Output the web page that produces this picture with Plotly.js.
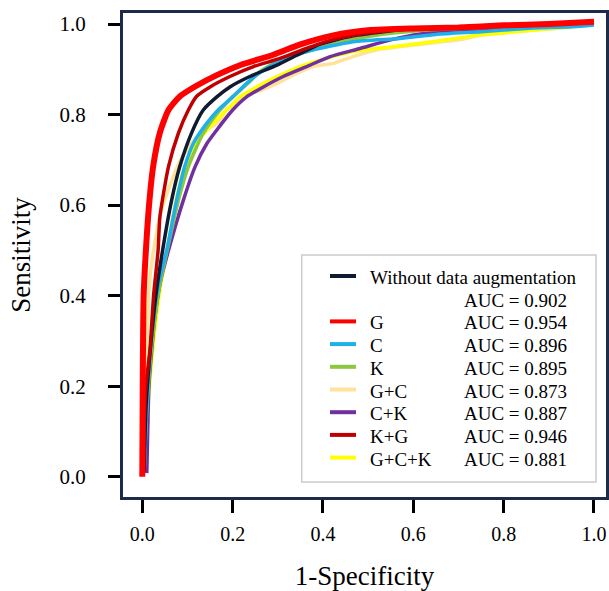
<!DOCTYPE html>
<html>
<head>
<meta charset="utf-8">
<script src="https://cdn.plot.ly/plotly-3.0.1.min.js"></script>
<style>html,body{margin:0;padding:0;background:#fff;}#chart{width:609px;height:591px;}</style>
</head>
<body>
<div id="chart"></div>
<script>
// ---- Data ----
const seriesNames = ["Without data augmentation", "G", "C", "K", "G+C", "C+K", "K+G", "G+C+K"];
const seriesAUC = ["AUC = 0.902", "AUC = 0.954", "AUC = 0.896", "AUC = 0.895", "AUC = 0.873", "AUC = 0.887", "AUC = 0.946", "AUC = 0.881"];
const seriesColors = ["#101a30", "#ff0000", "#1eb0ea", "#8dc63f", "#ffe29a", "#7030a0", "#c00000", "#ffff00"];

const fprNone = [0.004,0.008,0.015,0.03,0.045,0.065,0.083,0.109,0.135,0.165,0.194,0.238,0.298,0.342,0.393,0.467,0.533,0.6,0.7,0.8,0.9,1.0];
const tprNone = [0.01,0.15,0.25,0.4,0.5,0.611,0.685,0.759,0.81,0.839,0.861,0.884,0.909,0.931,0.955,0.974,0.983,0.99,0.992,0.995,0.999,1.004];

const fprG = [0,0.001,0.003,0.008,0.015,0.024,0.039,0.058,0.083,0.117,0.165,0.216,0.29,0.35,0.423,0.5,0.6,0.7,0.8,0.9,1.0];
const tprG = [0,0.2,0.4,0.5,0.6,0.685,0.76,0.81,0.84,0.862,0.887,0.909,0.932,0.955,0.975,0.986,0.99,0.992,0.997,1.0,1.005];

const fprC = [0.004,0.01,0.02,0.035,0.054,0.076,0.094,0.113,0.143,0.168,0.2,0.231,0.268,0.312,0.364,0.467,0.57,0.65,0.75,0.85,0.95,1.0];
const tprC = [0.01,0.15,0.3,0.42,0.5,0.611,0.685,0.736,0.781,0.81,0.839,0.869,0.898,0.92,0.939,0.961,0.968,0.977,0.983,0.99,0.994,0.998];

const fprK = [0.004,0.01,0.022,0.038,0.055,0.08,0.102,0.135,0.172,0.2,0.234,0.26,0.305,0.378,0.46,0.555,0.65,0.75,0.85,1.0];
const tprK = [0.01,0.15,0.3,0.42,0.5,0.611,0.685,0.759,0.81,0.839,0.869,0.895,0.92,0.943,0.965,0.98,0.988,0.992,0.996,1.002];

const fprGC = [0.002,0.005,0.008,0.01,0.014,0.018,0.025,0.04,0.06,0.085,0.12,0.14,0.165,0.187,0.223,0.253,0.29,0.334,0.378,0.423,0.467,0.52,0.615,0.7,0.75,0.85,0.95,1.0];
const tprGC = [0.01,0.1,0.2,0.28,0.4,0.45,0.5,0.58,0.64,0.7,0.75,0.765,0.781,0.81,0.839,0.85,0.865,0.887,0.906,0.913,0.928,0.943,0.955,0.965,0.975,0.985,0.993,1.0];

const fprCK = [0.01,0.012,0.015,0.028,0.04,0.058,0.091,0.117,0.143,0.165,0.2,0.231,0.268,0.312,0.364,0.416,0.482,0.55,0.615,0.7,0.8,0.9,1.0];
const tprCK = [0.008,0.1,0.207,0.353,0.43,0.5,0.611,0.685,0.736,0.766,0.81,0.839,0.861,0.884,0.906,0.928,0.946,0.965,0.978,0.986,0.992,0.997,1.005];

const fprKG = [0.003,0.004,0.008,0.017,0.025,0.035,0.039,0.058,0.08,0.102,0.12,0.15,0.194,0.246,0.305,0.36,0.42,0.5,0.6,0.7,0.8,0.9,1.0];
const tprKG = [0.01,0.1,0.2,0.28,0.4,0.5,0.574,0.685,0.759,0.81,0.84,0.861,0.884,0.906,0.924,0.945,0.965,0.98,0.99,0.992,0.996,1.0,1.005];

const fprGCK = [0.003,0.012,0.025,0.04,0.055,0.075,0.094,0.12,0.157,0.194,0.216,0.253,0.305,0.349,0.408,0.467,0.555,0.65,0.75,0.85,0.95,1.0];
const tprGCK = [0.01,0.15,0.3,0.42,0.5,0.611,0.685,0.736,0.781,0.817,0.839,0.861,0.887,0.906,0.924,0.939,0.95,0.962,0.976,0.985,0.994,1.0];

const xTickVals = [0, 0.2, 0.4, 0.6, 0.8, 1.0];
const xTickText = ["0.0", "0.2", "0.4", "0.6", "0.8", "1.0"];
const yTickVals = [0, 0.2, 0.4, 0.6, 0.8, 1.0];
const yTickText = ["0.0", "0.2", "0.4", "0.6", "0.8", "1.0"];

const seriesX = [fprNone, fprG, fprC, fprK, fprGC, fprCK, fprKG, fprGCK];
const seriesY = [tprNone, tprG, tprC, tprK, tprGC, tprCK, tprKG, tprGCK];
const seriesWidth = [3.5, 6, 3.5, 3.5, 3.5, 3.5, 3.5, 3.5];

// drawing order (bottom to top)
const drawOrder = [4, 7, 5, 3, 2, 0, 6, 1];
const traces = drawOrder.map(i => ({
  type: 'scatter', mode: 'lines',
  x: seriesX[i], y: seriesY[i], name: seriesNames[i],
  line: {color: seriesColors[i], width: seriesWidth[i], shape: 'spline', smoothing: 0.6},
  hoverinfo: 'skip'
}));

// ---- Layout ----
const M = {l: 123, r: 3, t: 13, b: 94};
const W = 609, H = 591;
const pw = W - M.l - M.r, ph = H - M.t - M.b;
const px2paper = px => (px - M.l) / pw;
const py2paper = py => (H - M.b - py) / ph;

const serif = 'Liberation Serif, Times New Roman, serif';
const shapes = [];
const annotations = [];

// legend box
shapes.push({type: 'rect', xref: 'paper', yref: 'paper',
  x0: px2paper(301.7), x1: px2paper(596), y0: py2paper(482), y1: py2paper(255),
  line: {color: '#cccccc', width: 1.5}, fillcolor: 'white', layer: 'above'});

const lineTop = 277.5, lineStep = 22.7;
const textX = 368.3, aucX = 462, sampleX0 = 330, sampleX1 = 356;
for (let k = 0; k < seriesNames.length; k++) {
  const textLine = k === 0 ? 0 : k + 1;
  const yc = lineTop + lineStep * textLine;
  shapes.push({type: 'line', xref: 'paper', yref: 'paper', layer: 'above',
    x0: px2paper(sampleX0), x1: px2paper(sampleX1),
    y0: py2paper(yc - 1.5), y1: py2paper(yc - 1.5),
    line: {color: seriesColors[k], width: 4}});
  annotations.push({xref: 'paper', yref: 'paper', x: px2paper(textX), y: py2paper(yc),
    xanchor: 'left', yanchor: 'middle', showarrow: false, text: seriesNames[k],
    font: {family: serif, size: 19, color: 'black'}});
  const aucLine = k === 0 ? 1 : textLine;
  annotations.push({xref: 'paper', yref: 'paper', x: px2paper(aucX), y: py2paper(lineTop + lineStep * aucLine),
    xanchor: 'left', yanchor: 'middle', showarrow: false, text: seriesAUC[k],
    font: {family: serif, size: 19, color: 'black'}});
}

const layout = {
  width: W, height: H,
  margin: M,
  paper_bgcolor: 'white', plot_bgcolor: 'white',
  showlegend: false,
  font: {family: serif, color: 'black'},
  xaxis: {
    range: [-0.0427, 1.0266], tickvals: xTickVals, ticktext: xTickText,
    ticks: 'outside', ticklen: 13, tickwidth: 3, tickcolor: 'black',
    showline: true, mirror: true, linecolor: '#1c2b4a', linewidth: 3,
    showgrid: false, zeroline: false, ticklabelstandoff: 4,
    tickfont: {family: serif, size: 20, color: 'black'},
    title: {text: '1-Specificity', font: {family: serif, size: 27, color: 'black'}, standoff: 27}
  },
  yaxis: {
    range: [-0.0448, 1.0243], tickvals: yTickVals, ticktext: yTickText,
    ticks: 'outside', ticklen: 12, tickwidth: 3, tickcolor: 'black',
    showline: true, mirror: true, linecolor: '#1c2b4a', linewidth: 3,
    showgrid: false, zeroline: false, ticklabelstandoff: 18,
    tickfont: {family: serif, size: 21, color: 'black'},
    title: {text: 'Sensitivity', font: {family: serif, size: 27, color: 'black'}, standoff: 22}
  },
  shapes: shapes,
  annotations: annotations
};

Plotly.newPlot('chart', traces, layout, {displayModeBar: false, staticPlot: true});
</script>
</body>
</html>
